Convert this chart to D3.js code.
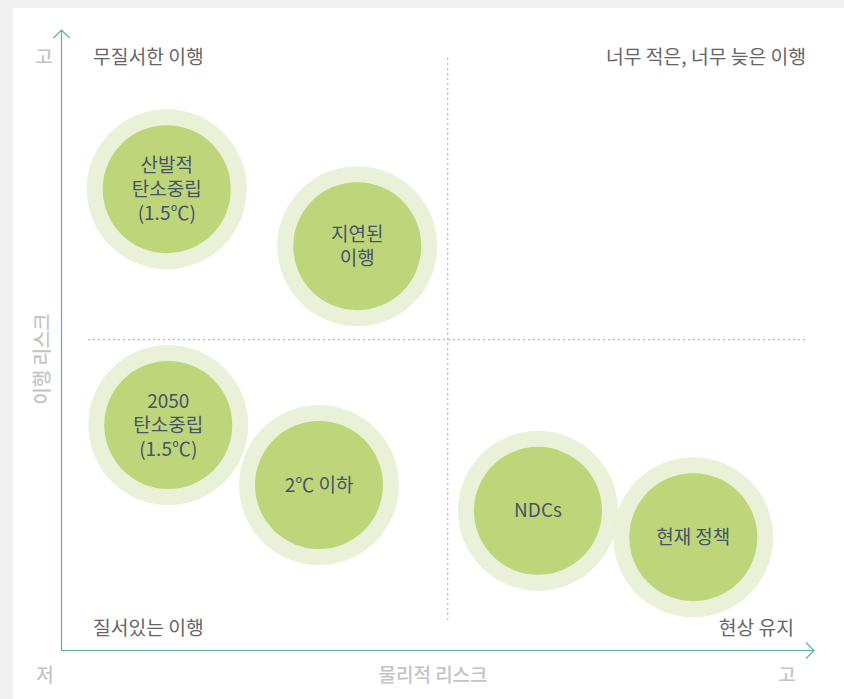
<!DOCTYPE html>
<html>
<head>
<meta charset="utf-8">
<script src="https://cdn.jsdelivr.net/npm/d3@7"></script>
<style>
  html, body { margin: 0; padding: 0; background: #f0f0f0; }
  svg { display: block; }
  text { font-family: "Noto Sans CJK KR", "Noto Sans", sans-serif; }
</style>
</head>
<body>
<svg id="chart"></svg>
<script>
// scenario bubbles: labels (multi-line) and position on risk axes (0-100)
var scenarioLabels = [
    ["산발적", "탄소중립", "(1.5℃)"],
    ["지연된", "이행"],
    ["2050", "탄소중립", "(1.5℃)"],
    ["2℃ 이하"],
    ["NDCs"],
    ["현재 정책"]
]
var physicalRisk = [14.1, 39.5, 14.3, 34.4, 63.6, 84.3]
var transitionRisk = [76.8, 67.3, 37.5, 27.5, 23.2, 18.8]

// quadrant dividers
var dividerX = 51.5
var dividerY = 51.8

// quadrant names
var quadrantNames = ["무질서한 이행", "너무 적은, 너무 늦은 이행", "질서있는 이행", "현상 유지"]

// axis texts
var xAxisTitle = "물리적 리스크"
var yAxisTitle = "이행 리스크"
var lowLabel = "저"
var highLabel = "고"

var W = 844, H = 699
var margin = {left: 61, right: 33, top: 50, bottom: 49}

var svg = d3.select("#chart")
    .attr("width", W)
    .attr("height", H)

// white panel
svg.append("rect")
    .attr("x", 13).attr("y", 8)
    .attr("width", W - 13).attr("height", H - 8)
    .attr("fill", "#fff")

var x = d3.scaleLinear()
    .domain([0, 100])
    .range([margin.left, W - margin.right])

var y = d3.scaleLinear()
    .domain([0, 100])
    .range([H - margin.bottom, margin.top])

var axisColor = "#5db3a0"
var x0 = x(0), y0 = y(0)

// dashed quadrant dividers
svg.append("line")
    .attr("x1", x(dividerX) + 0.5).attr("x2", x(dividerX) + 0.5)
    .attr("y1", 58).attr("y2", 620)
    .attr("stroke", "#aaa")
    .attr("stroke-dasharray", "2,3")

svg.append("line")
    .attr("x1", 88).attr("x2", 806)
    .attr("y1", y(dividerY) + 0.5).attr("y2", y(dividerY) + 0.5)
    .attr("stroke", "#aaa")
    .attr("stroke-dasharray", "2,3")

// axes with open arrow heads
var xEnd = 814, yEnd = 30
var axes = svg.append("g")
    .attr("stroke", axisColor)
    .attr("stroke-width", 1.2)
    .attr("fill", "none")

axes.append("line")
    .attr("x1", x0 + 0.5).attr("x2", x0 + 0.5)
    .attr("y1", y0 + 0.5).attr("y2", yEnd)
axes.append("path")
    .attr("d", `M${x0 - 7.5},${yEnd + 8} L${x0 + 0.5},${yEnd} L${x0 + 8.5},${yEnd + 8}`)

axes.append("line")
    .attr("x1", x0).attr("x2", xEnd)
    .attr("y1", y0 + 0.5).attr("y2", y0 + 0.5)
axes.append("path")
    .attr("d", `M${xEnd - 8},${y0 - 7.5} L${xEnd},${y0 + 0.5} L${xEnd - 8},${y0 + 8.5}`)

// axis titles
var axisText = "#c4c4c4"
var axisFont = 19
svg.append("text")
    .attr("x", 44).attr("y", 64)
    .attr("text-anchor", "middle")
    .attr("font-size", axisFont).attr("font-weight", 500)
    .attr("fill", axisText)
    .text(highLabel)

svg.append("text")
    .attr("x", 45).attr("y", 682)
    .attr("text-anchor", "middle")
    .attr("font-size", axisFont).attr("font-weight", 500)
    .attr("fill", axisText)
    .text(lowLabel)

svg.append("text")
    .attr("x", 787).attr("y", 682)
    .attr("text-anchor", "middle")
    .attr("font-size", axisFont).attr("font-weight", 500)
    .attr("fill", axisText)
    .text(highLabel)

svg.append("text")
    .attr("x", 433).attr("y", 682)
    .attr("text-anchor", "middle")
    .attr("font-size", axisFont).attr("font-weight", 500)
    .attr("fill", axisText)
    .text(xAxisTitle)

svg.append("text")
    .attr("transform", "translate(49,359) rotate(-90)")
    .attr("text-anchor", "middle")
    .attr("font-size", axisFont).attr("font-weight", 500)
    .attr("fill", axisText)
    .text(yAxisTitle)

// quadrant names
var quadPos = [
    {x: 93, y: 64, anchor: "start"},
    {x: 806, y: 64, anchor: "end"},
    {x: 93, y: 635, anchor: "start"},
    {x: 794, y: 635, anchor: "end"}
]
svg.append("g")
    .selectAll("text")
    .data(quadrantNames)
    .join("text")
    .attr("x", (d, i) => quadPos[i].x)
    .attr("y", (d, i) => quadPos[i].y)
    .attr("text-anchor", (d, i) => quadPos[i].anchor)
    .attr("font-size", 19.3)
    .attr("fill", "#666")
    .text(d => d)

// bubbles
var bubbles = scenarioLabels.map((lines, i) => ({
    lines: lines,
    px: physicalRisk[i],
    tr: transitionRisk[i]
}))

var outerR = 80, innerR = 64

var g = svg.append("g")
    .selectAll("g")
    .data(bubbles)
    .join("g")
    .attr("transform", d => `translate(${x(d.px)},${y(d.tr)})`)

g.append("circle")
    .attr("r", outerR)
    .attr("fill", "#e7f0d6")
    .attr("fill-opacity", 0.92)

g.append("circle")
    .attr("r", innerR)
    .attr("fill", "#bed679")

var lineH = 24
g.append("text")
    .attr("text-anchor", "middle")
    .attr("font-size", 19)
    .attr("fill", "#44546a")
    .selectAll("tspan")
    .data(d => d.lines.map((t, i) => ({t: t, i: i, n: d.lines.length})))
    .join("tspan")
    .attr("x", 0)
    .attr("y", d => (d.i - (d.n - 1) / 2) * lineH)
    .attr("dy", "0.35em")
    .text(d => d.t)
</script>
</body>
</html>
